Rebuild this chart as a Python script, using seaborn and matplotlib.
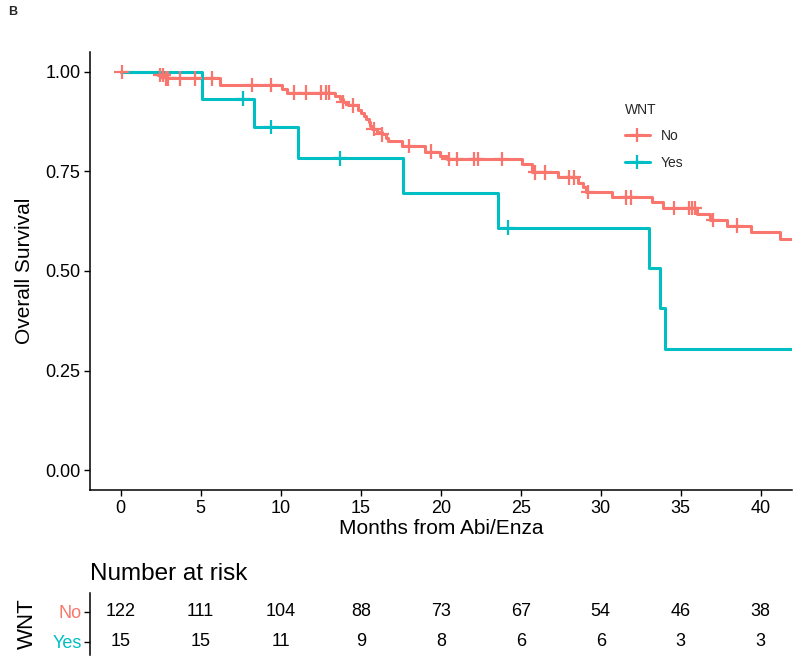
import numpy as np
import pandas as pd
import matplotlib
matplotlib.use("Agg")
import matplotlib.pyplot as plt
import seaborn as sns
from matplotlib.lines import Line2D

# ---------------- data ----------------
groups = ["No", "Yes"]
palette = {"No": "#F8766D", "Yes": "#00BFC4"}
follow_up_end = 41.9

no_event_times = [2.3, 2.8, 6.2, 10.05, 10.4, 13.4, 13.7, 13.9, 14.2, 14.8, 15.0, 15.2,
                  15.35, 15.5, 15.6, 15.7, 16.0, 16.3, 16.6, 16.7, 17.6, 19.0, 19.95,
                  20.4, 25.05, 25.7, 27.35, 28.6, 28.9, 29.1, 30.7, 33.2, 33.9, 36.0,
                  36.8, 37.9, 39.4, 41.2]
no_surv = [0.992, 0.984, 0.967, 0.958, 0.948, 0.940, 0.932, 0.924, 0.916, 0.905, 0.897,
           0.889, 0.881, 0.873, 0.865, 0.857, 0.850, 0.843, 0.835, 0.827, 0.814, 0.800,
           0.789, 0.781, 0.768, 0.748, 0.735, 0.722, 0.710, 0.698, 0.685, 0.672, 0.658,
           0.643, 0.628, 0.614, 0.598, 0.581]
no_censor = [0.06, 2.45, 2.67, 2.83, 2.98, 3.7, 4.65, 5.7, 8.2, 9.4, 10.8, 11.6, 12.5,
             12.8, 13.0, 13.9, 14.5, 15.8, 16.3, 18.0, 19.4, 20.5, 21.0, 22.1, 22.3,
             23.8, 25.9, 26.5, 28.0, 28.3, 29.2, 31.6, 31.9, 34.6, 35.5, 35.7, 35.9,
             37.0, 38.5]

yes_event_times = [5.1, 8.33, 11.08, 17.65, 23.6, 33.0, 33.7, 34.0]
yes_surv = [0.933, 0.862, 0.783, 0.696, 0.609, 0.508, 0.406, 0.305]
yes_censor = [7.64, 9.4, 13.7, 24.2]

risk_times = [0, 5, 10, 15, 20, 25, 30, 35, 40]
risk_no = [122, 111, 104, 88, 73, 67, 54, 46, 38]
risk_yes = [15, 15, 11, 9, 8, 6, 6, 3, 3]

x_ticks = [0, 5, 10, 15, 20, 25, 30, 35, 40]
y_ticks = [0.0, 0.25, 0.50, 0.75, 1.00]
y_tick_labels = ["0.00", "0.25", "0.50", "0.75", "1.00"]

# ---------------- build tables ----------------
curves = {"No": (no_event_times, no_surv, no_censor),
          "Yes": (yes_event_times, yes_surv, yes_censor)}
rows, crows = [], []
for g in groups:
    et, sv, ce = curves[g]
    t = [0.0] + list(et) + [follow_up_end]
    s = [1.0] + list(sv) + [sv[-1]]
    for ti, si in zip(t, s):
        rows.append({"time": ti, "surv": si, "group": g})
    t_arr = np.array([0.0] + list(et))
    s_arr = np.array([1.0] + list(sv))
    for c in ce:
        idx = np.searchsorted(t_arr, c, side="right") - 1
        crows.append({"time": c, "surv": s_arr[idx], "group": g})
df = pd.DataFrame(rows)
cdf = pd.DataFrame(crows)

# ---------------- plot ----------------
sns.set_theme(style="white")
plt.rcParams['font.family'] = ['Liberation Sans', 'DejaVu Sans']

fig = plt.figure(figsize=(8, 6.69), dpi=100)
ax = fig.add_axes([0.1125, 0.2676, 0.8775, 0.6547])

sns.lineplot(data=df, x="time", y="surv", hue="group", palette=palette,
             drawstyle="steps-post", estimator=None, sort=False, linewidth=2.2,
             legend=False, ax=ax)
sns.scatterplot(data=cdf, x="time", y="surv", hue="group", palette=palette,
                marker="+", s=110, linewidth=1.6, legend=False, ax=ax, zorder=3)

ax.set_xlim(-1.92, 41.95)
ax.set_ylim(-0.05, 1.05)
ax.set_xticks(x_ticks)
ax.set_yticks(y_ticks)
ax.set_yticklabels(y_tick_labels)
ax.tick_params(axis="both", which="both", bottom=True, left=True, length=4, width=1,
               color="black", labelsize=13, labelcolor="black", pad=3)
for side in ["top", "right"]:
    ax.spines[side].set_visible(False)
for side in ["left", "bottom"]:
    ax.spines[side].set_color("black")
    ax.spines[side].set_linewidth(1.1)
ax.set_xlabel("Months from Abi/Enza", fontsize=15, color="black", labelpad=2)
ax.set_ylabel("Overall Survival", fontsize=15, color="black", labelpad=8)

handles = [Line2D([], [], color=palette[g], lw=2.2, marker="+", markersize=10,
                  markeredgewidth=1.6) for g in groups]
leg = ax.legend(handles, groups, title="WNT", frameon=False, loc="upper left",
                bbox_to_anchor=(0.765, 0.865), bbox_transform=fig.transFigure,
                fontsize=10, title_fontsize=10, handlelength=1.8, labelspacing=0.9)
leg._legend_box.align = "left"

# ---------------- risk table ----------------
tax = fig.add_axes([0.1125, 0.0209, 0.8775, 0.0927])
tax.set_xlim(-1.92, 41.95)
tax.set_ylim(-0.44, 1.63)
for t, n in zip(risk_times, risk_no):
    tax.text(t, 1, str(n), ha="center", va="center", fontsize=13, color="black")
for t, n in zip(risk_times, risk_yes):
    tax.text(t, 0, str(n), ha="center", va="center", fontsize=13, color="black")
tax.set_xticks([])
tax.set_yticks([1, 0])
tax.set_yticklabels(groups)
for lbl, g in zip(tax.get_yticklabels(), groups):
    lbl.set_color(palette[g])
tax.tick_params(axis="y", left=True, length=4, width=1, color="black", labelsize=13, pad=2)
for side in ["top", "right", "bottom"]:
    tax.spines[side].set_visible(False)
tax.spines["left"].set_color("black")
tax.spines["left"].set_linewidth(1.1)
tax.set_ylabel("WNT", fontsize=16, color="black", labelpad=10)

fig.text(0.1125, 1 - 574 / 669, "Number at risk", fontsize=17.5, ha="left", va="center",
         color="black")
fig.text(0.010, 1 - 12 / 669, "B", fontsize=9, fontweight="bold", ha="left", va="center")

fig.savefig("out.png", dpi=100)
